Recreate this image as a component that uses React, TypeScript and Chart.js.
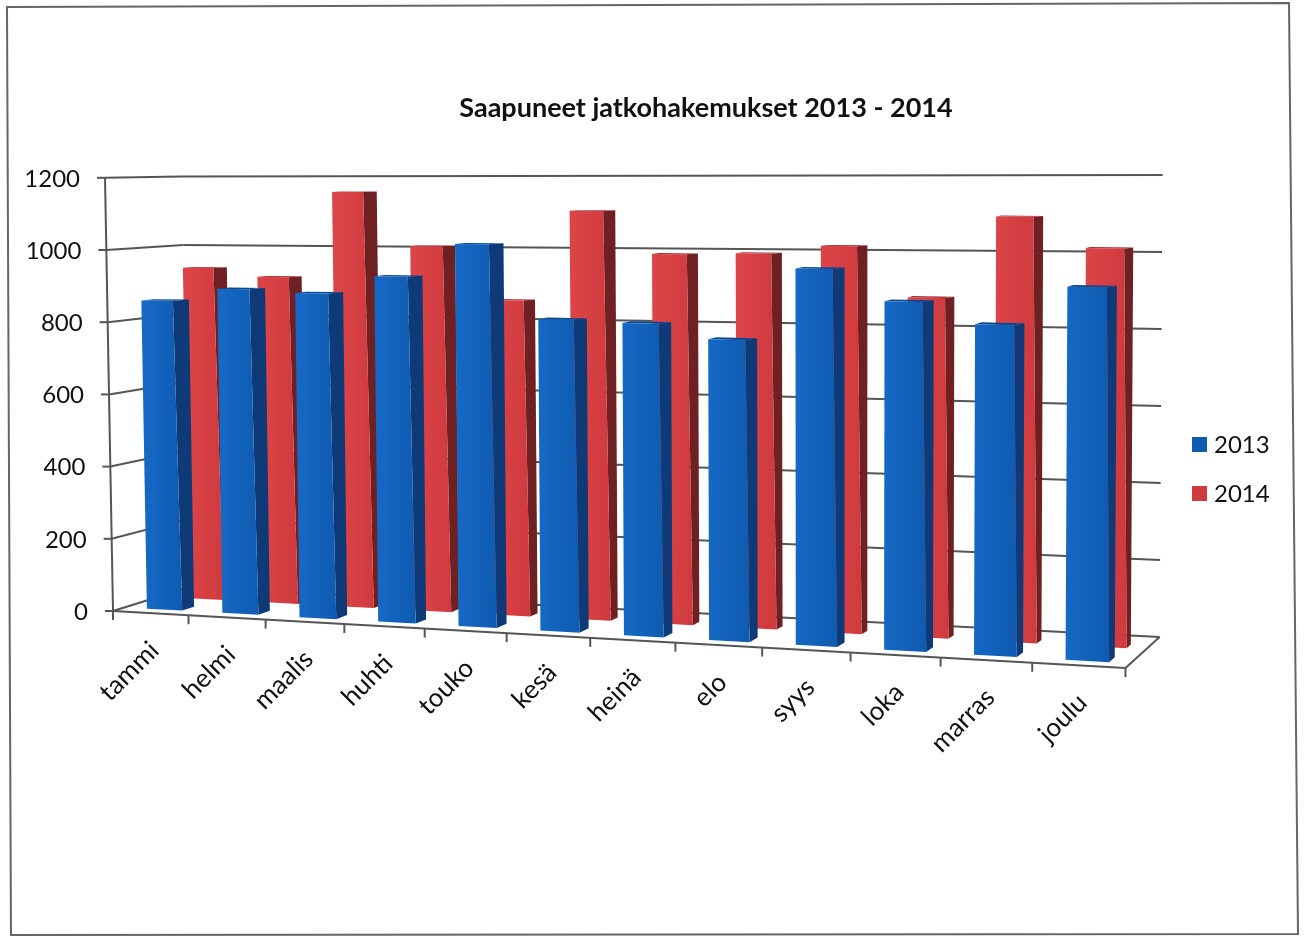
import React, { useEffect, useRef } from "react";
import { Chart, registerables } from "chart.js";

Chart.register(...registerables);

const titleText = "Saapuneet jatkohakemukset 2013 - 2014";
const months = ["tammi", "helmi", "maalis", "huhti", "touko", "kesä", "heinä", "elo", "syys", "loka", "marras", "joulu"];
const values2013 = [858, 893, 884, 932, 1021, 824, 818, 780, 967, 887, 833, 932];
const values2014 = [941, 917, 1156, 1006, 860, 1105, 990, 994, 1016, 884, 1097, 1018];

const FONT = "Lato, 'Open Sans', sans-serif";
const GRID = "#555555";

// Projection of the 3D box: u = category position 0..12, d = depth 0 (front) .. 1 (back), h = height in scale pixels
function project(u: number, d: number, h: number, pxPerUnit: number) {
  const v = h / pxPerUnit;
  const xf = 113 + 74.7 * u + 0.806 * u * u;
  const xb = 190 + 71.5 * u + 0.775 * u * u;
  const yf = 611 + 0.0563 * (xf - 113);
  const yb = 587 + 0.0515 * (xb - 190);
  const kf = 0.361 + (0.045 * u) / 12;
  const kb = 0.342 + (0.043 * u) / 12;
  const lean = (((1 - u / 12) * 8 - (u / 12) * 3) * v) / 1200;
  return {
    x: xf + (xb - xf) * d - lean,
    y: yf + (yb - yf) * d - v * (kf + (kb - kf) * d),
  };
}

function poly(ctx: CanvasRenderingContext2D, pts: { x: number; y: number }[], fill: any) {
  ctx.beginPath();
  pts.forEach((p, i) => (i ? ctx.lineTo(p.x, p.y) : ctx.moveTo(p.x, p.y)));
  ctx.closePath();
  ctx.fillStyle = fill;
  ctx.fill();
}

function line(ctx: CanvasRenderingContext2D, a: { x: number; y: number }, b: { x: number; y: number }) {
  ctx.beginPath();
  ctx.moveTo(a.x, a.y);
  ctx.lineTo(b.x, b.y);
  ctx.stroke();
}

const scene = {
  id: "scene",
  beforeDatasetsDraw(chart: any) {
    const { ctx, chartArea, scales } = chart;
    const yS = scales.y;
    const ppu = chartArea.height / 1200;
    ctx.save();
    // scanned page frame
    ctx.strokeStyle = "#666666";
    ctx.lineWidth = 2;
    ctx.beginPath();
    ctx.moveTo(7, 7);
    ctx.lineTo(1289, 3);
    ctx.lineTo(1298, 934);
    ctx.lineTo(11, 935);
    ctx.closePath();
    ctx.stroke();

    ctx.strokeStyle = GRID;
    ctx.lineWidth = 2;
    // floor
    line(ctx, project(0, 1, 0, ppu), project(12, 1, 0, ppu));
    line(ctx, project(0, 0, 0, ppu), project(0, 1, 0, ppu));
    line(ctx, project(12, 0, 0, ppu), project(12, 1, 0, ppu));
    line(ctx, project(0, 0, 0, ppu), project(12, 0, 0, ppu));
    // value gridlines and labels
    ctx.font = `24px ${FONT}`;
    ctx.textAlign = "right";
    ctx.textBaseline = "middle";
    yS.ticks.forEach((t: any) => {
      const h = chartArea.bottom - yS.getPixelForValue(t.value);
      const a = project(0, 0, h, ppu);
      const b = project(0, 1, h, ppu);
      const c = project(12, 1, h, ppu);
      if (t.value > 0) {
        line(ctx, a, b);
        line(ctx, b, c);
      }
      line(ctx, { x: a.x - 8, y: a.y }, a);
      ctx.fillStyle = "#111111";
      ctx.fillText(String(t.value), a.x - 25, a.y + 1);
    });
    // axis
    line(ctx, project(0, 0, 0, ppu), project(0, 0, chartArea.height, ppu));
    // category ticks
    for (let i = 0; i <= months.length; i++) {
      const p = project(i, 0, 0, ppu);
      line(ctx, p, { x: p.x, y: p.y + 9 });
    }
    // category labels
    ctx.font = `26px ${FONT}`;
    ctx.fillStyle = "#111111";
    months.forEach((m, i) => {
      const p = project(i + 0.5, 0, 0, ppu);
      ctx.save();
      ctx.translate(p.x + 4, p.y + 33);
      ctx.rotate(-Math.PI / 4);
      ctx.fillText(m, 0, 0);
      ctx.restore();
    });
    // title
    ctx.font = `bold 27px ${FONT}`;
    ctx.textAlign = "center";
    ctx.fillText(titleText, 706, 108);
    // legend
    ctx.font = `24px ${FONT}`;
    ctx.textAlign = "left";
    chart.data.datasets.forEach((ds: any, i: number) => {
      const y = 445 + i * 49;
      ctx.fillStyle = ds.backgroundColor;
      ctx.fillRect(1192, y - 8, 15, 15);
      ctx.fillStyle = "#111111";
      ctx.fillText(ds.label, 1214, y);
    });
    ctx.restore();
  },
  beforeDatasetDraw(chart: any, args: any) {
    const { ctx, chartArea, scales } = chart;
    const ds = chart.data.datasets[args.index];
    const xS = scales.x;
    const ppu = chartArea.height / 1200;
    const unit = xS.width / 12;
    const { uShift, uDrift, dFront, dBack, sideColor, topColor, lightColor } = ds.box;
    ctx.save();
    args.meta.data.forEach((bar: any) => {
      const u0 = (bar.x - xS.left) / unit;
      const uC = u0 + uShift + (uDrift * u0) / 12;
      const half = bar.width / unit / 2;
      const h = bar.base - bar.y;
      const v = h / ppu;
      const edge = (4 * v) / 850;
      const fl0 = project(uC - half, dFront, 0, ppu);
      const fr0 = project(uC + half, dFront, 0, ppu);
      const br0 = project(uC + half, dBack, 0, ppu);
      const fl = project(uC - half, dFront, h, ppu);
      const fr = project(uC + half, dFront, h, ppu);
      const frE = { x: fr.x - edge, y: fr.y };
      const br = project(uC + half, dBack, h, ppu);
      const bl = project(uC - half, dBack, h, ppu);
      poly(ctx, [fr0, br0, br, frE], sideColor);
      poly(ctx, [fl, frE, br, bl], topColor);
      const g = ctx.createLinearGradient(fl0.x, 0, fr0.x, 0);
      g.addColorStop(0, lightColor);
      g.addColorStop(1, ds.backgroundColor);
      poly(ctx, [fl0, fr0, frE, fl], g);
    });
    ctx.restore();
    return false;
  },
};

export default function App() {
  const ref = useRef<HTMLCanvasElement>(null);
  useEffect(() => {
    document.body.style.margin = "0";
    const chart = new Chart(ref.current!, {
      type: "bar",
      data: {
        labels: months,
        datasets: [
          {
            label: "2013",
            data: values2013,
            backgroundColor: "#0f5bb0",
            box: { uShift: 0.035, uDrift: 0, dFront: 0.15, dBack: 0.31, sideColor: "#0e3a78", topColor: "#0d4a94", lightColor: "#1568c4" },
          },
          {
            label: "2014",
            data: values2014,
            backgroundColor: "#cf3a3e",
            box: { uShift: 0.145, uDrift: -0.095, dFront: 0.6, dBack: 0.72, sideColor: "#6e2022", topColor: "#a52f32", lightColor: "#dc4548" },
          },
        ] as any,
      },
      options: {
        responsive: false,
        animation: false,
        layout: { padding: { left: 113, right: 180, top: 177, bottom: 326 } },
        datasets: { bar: { grouped: false, barPercentage: 0.47, categoryPercentage: 1 } },
        plugins: { legend: { display: false }, title: { display: false }, tooltip: { enabled: false } },
        scales: {
          x: { display: false, grid: { display: false } },
          y: { display: false, min: 0, max: 1200, ticks: { stepSize: 200 }, grid: { display: false } },
        },
      } as any,
      plugins: [scene],
    });
    return () => chart.destroy();
  }, []);
  return <canvas ref={ref} width={1305} height={936} style={{ display: "block", filter: "blur(0.5px)" }} />;
}
